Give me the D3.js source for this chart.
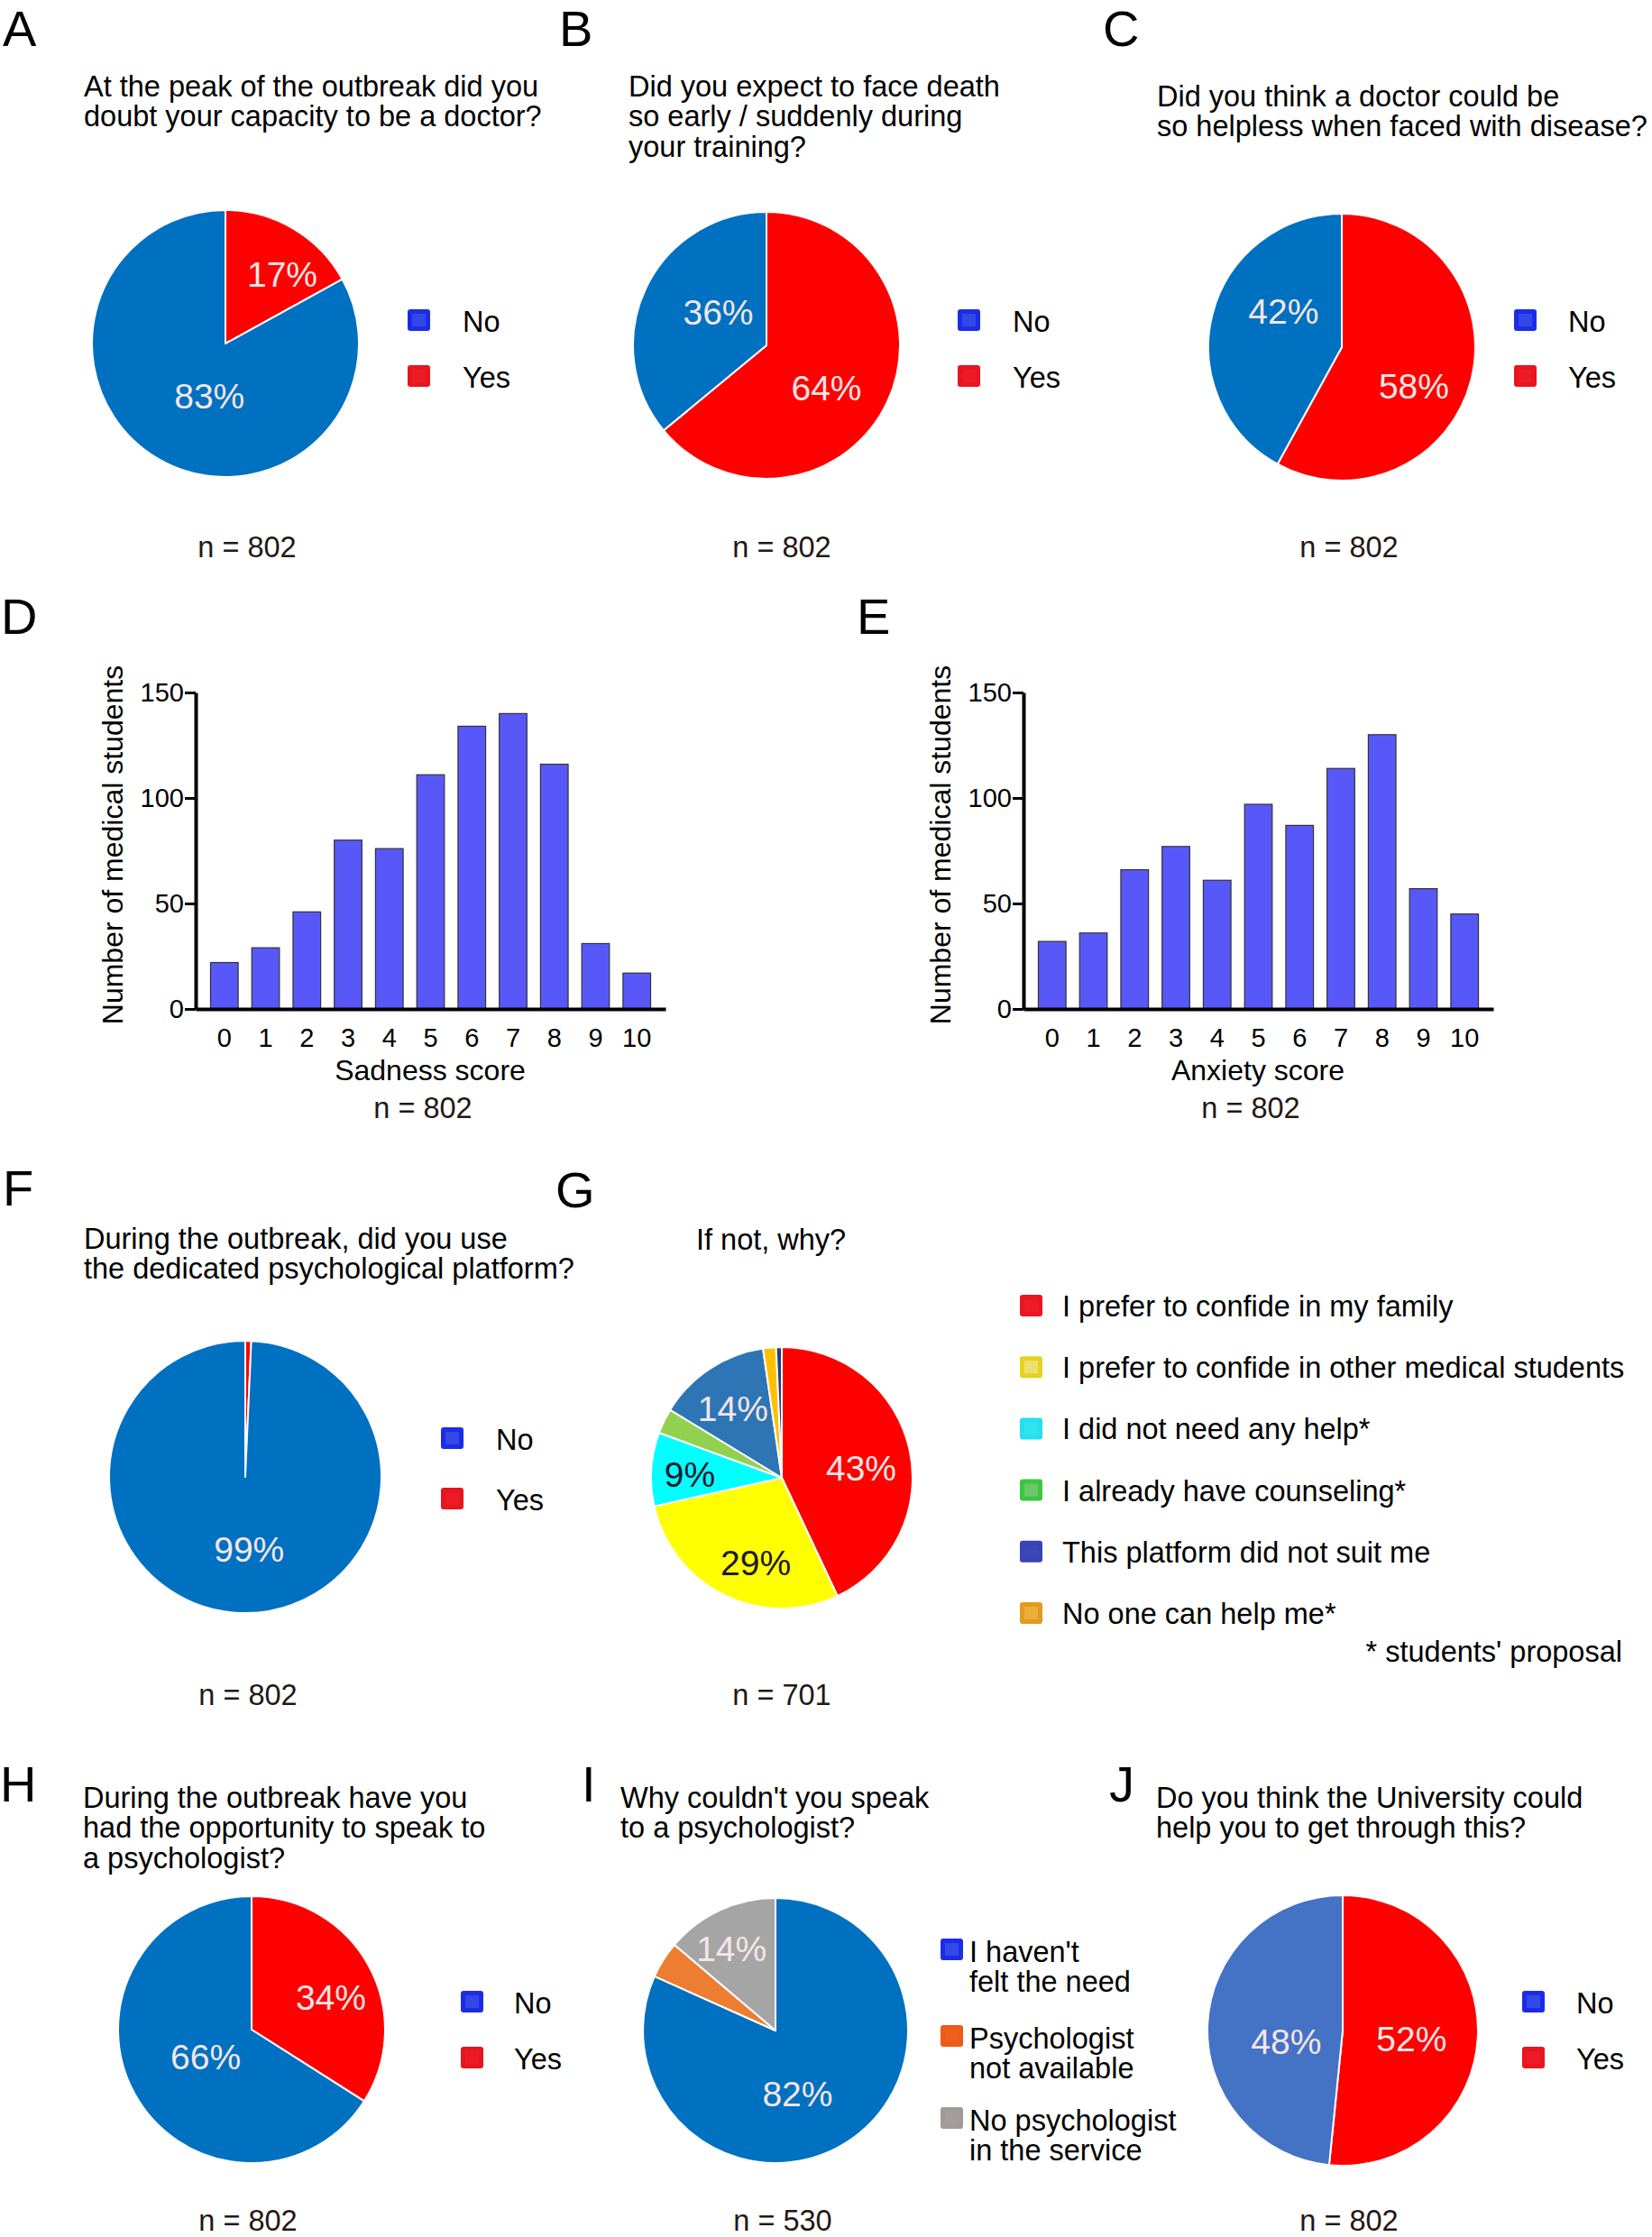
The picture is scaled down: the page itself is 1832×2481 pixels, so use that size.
<!DOCTYPE html>
<html>
<head>
<meta charset="utf-8">
<script src="https://cdn.jsdelivr.net/npm/d3@7"></script>
<style>
  body { margin: 0; background: #fff; }
  svg { display: block; font-family: "Liberation Sans", Arial, sans-serif; }
</style>
</head>
<body>
<svg id="fig" width="1832" height="2481"></svg>
<script>
// ---------- data ----------
// yes/no pies: slices drawn clockwise from 12 o'clock, "Yes" first
const yesNoSlices = ["Yes", "No"];
const legendYesNo = ["No", "Yes"];
const doubtCapacity = [17, 83];
const expectDeath = [64, 36];
const helpless = [58, 42];
const usedPlatform = [0.7, 99.3];
const spokePsychologist = [34, 66];
const universityHelp = [51.6, 48.4];

// G: if not, why?
const whyNotLegend = ["I prefer to confide in my family", "I prefer to confide in other medical students",
  "I did not need any help*", "I already have counseling*", "This platform did not suit me", "No one can help me*"];
const whyNotSlices = [43, 28.5, 9.1, 3.1, 14, 1.6, 0.7];

// I: why couldn't you speak to a psychologist
const whyCouldntLegend = [["I haven't", "felt the need"], ["Psychologist", "not available"], ["No psychologist", "in the service"]];
const whyCouldntSlices = [81.7, 4.5, 13.8];

// D / E histograms
const scores = ["0", "1", "2", "3", "4", "5", "6", "7", "8", "9", "10"];
const sadness = [22, 29, 46, 80, 76, 111, 134, 140, 116, 31, 17];
const anxiety = [32, 36, 66, 77, 61, 97, 87, 114, 130, 57, 45];
const yTicks = [0, 50, 100, 150];

// ---------- styles ----------
const blue = "#0070c0", red = "#ff0000";
const legBlue = ["#1c2ce6", "#3448e8"], legRed = ["#e8141e", "#ec1c26"];
const labelLight = "#f4e6e6", labelDark = "#22182a";

const svg = d3.select("#fig");

function txt(x, y, s, size, opts) {
  opts = opts || {};
  return svg.append("text").attr("x", x).attr("y", y).text(s)
    .attr("font-size", size)
    .attr("fill", opts.fill || "#000")
    .attr("text-anchor", opts.anchor || "start");
}

function panelLetter(x, y, s) { txt(x, y, s, 56); }

function title(x, y, lines) {
  lines.forEach((l, i) => txt(x, y + i * 33.3, l, 32.5));
}

function nLabel(x, y, s) { txt(x, y, s, 32.5, { fill: "#231815", anchor: "middle" }); }

function legendSquare(x, y, cols) {
  svg.append("rect").attr("x", x).attr("y", y).attr("width", 25).attr("height", 24)
    .attr("rx", 3).attr("fill", cols[0]);
  svg.append("rect").attr("x", x + 5).attr("y", y + 5).attr("width", 15).attr("height", 14)
    .attr("fill", cols[1]);
}

// pie: values clockwise from top; labels given as [angleDeg, dist, colour] or null
function drawPie(cx, cy, r, values, colors, labels) {
  const pie = d3.pie().sort(null).value(d => d);
  const arc = d3.arc().innerRadius(0).outerRadius(r);
  const g = svg.append("g").attr("transform", `translate(${cx},${cy})`);
  const arcs = pie(values);
  g.selectAll("path").data(arcs).join("path")
    .attr("d", arc)
    .attr("fill", (d, i) => colors[i])
    .attr("stroke", "#fff")
    .attr("stroke-width", 2)
    .attr("stroke-linejoin", "round");
  g.selectAll("text").data(arcs.filter((d, i) => labels[i])).join("text")
    .each(function (d) {
      const lab = labels[d.index];
      const a = lab[0] * Math.PI / 180;
      d3.select(this)
        .attr("x", lab[1] * Math.sin(a))
        .attr("y", -lab[1] * Math.cos(a))
        .attr("fill", lab[2] || labelLight);
    })
    .attr("text-anchor", "middle")
    .attr("dominant-baseline", "central")
    .attr("font-size", 39)
    .text(d => Math.round(d.data) + "%");
}

function yesNoLegend(x, yNo, yYes, tx) {
  legendSquare(x, yNo, legBlue);
  legendSquare(x, yYes, legRed);
  txt(tx, yNo + 25, legendYesNo[0], 32.5);
  txt(tx, yYes + 25, legendYesNo[1], 32.5);
}

function drawHist(left, values, xTitle, yTitleX) {
  const x = d3.scaleBand().domain(scores).range([left, left + 521])
    .paddingInner(0.33).paddingOuter(0.36);
  const y = d3.scaleLinear().domain([0, 150]).range([1119, 768]);

  svg.append("g").selectAll("rect").data(values).join("rect")
    .attr("x", (d, i) => x(scores[i]))
    .attr("y", d => y(d))
    .attr("width", x.bandwidth())
    .attr("height", d => y(0) - y(d))
    .attr("fill", "#5858f8")
    .attr("stroke", "#333")
    .attr("stroke-width", 1.2);

  const ya = svg.append("g").attr("transform", `translate(${left},0)`)
    .call(d3.axisLeft(y).tickValues(yTicks).tickSize(12).tickSizeOuter(0).tickPadding(1));
  ya.select(".domain").attr("stroke-width", 4);
  ya.selectAll(".tick line").attr("stroke-width", 3);
  ya.selectAll("text").attr("font-size", 29).attr("font-family", "Liberation Sans, Arial, sans-serif").attr("fill", "#000");

  const xa = svg.append("g").attr("transform", `translate(0,${y(0)})`)
    .call(d3.axisBottom(x).tickSize(0).tickSizeOuter(0).tickPadding(21));
  xa.select(".domain").attr("stroke-width", 4);
  xa.selectAll("text").attr("font-size", 29).attr("font-family", "Liberation Sans, Arial, sans-serif").attr("fill", "#000");

  txt(left + 260, 1198, xTitle, 32, { anchor: "middle" });
  svg.append("text")
    .attr("transform", `translate(${yTitleX},937) rotate(-90)`)
    .attr("text-anchor", "middle")
    .attr("font-size", 32)
    .text("Number of medical students");
}

// ---------- row 1 ----------
panelLetter(3, 51, "A");
title(93, 107, ["At the peak of the outbreak did you", "doubt your capacity to be a doctor?"]);
drawPie(250, 381, 148, doubtCapacity, [red, blue], [[39.3, 99.5], [197, 60.7]]);
yesNoLegend(452, 343, 405, 513);
nLabel(274, 618, "n = 802");

panelLetter(620, 51, "B");
title(697, 107, ["Did you expect to face death", "so early / suddenly during", "your training?"]);
drawPie(850, 383, 148, expectDeath, [red, blue], [[125.5, 81.7], [304.3, 64.8]]);
yesNoLegend(1062, 343, 405, 1123);
nLabel(867, 618, "n = 802");

panelLetter(1223, 51, "C");
title(1283, 118, ["Did you think a doctor could be", "so helpless when faced with disease?"]);
drawPie(1488, 385, 148, helpless, [red, blue], [[118.3, 90.8], [301.6, 76]]);
yesNoLegend(1679, 343, 405, 1739);
nLabel(1496, 618, "n = 802");

// ---------- row 2 ----------
panelLetter(1, 703, "D");
drawHist(217, sadness, "Sadness score", 136);
nLabel(469, 1240, "n = 802");

panelLetter(950, 703, "E");
drawHist(1135, anxiety, "Anxiety score", 1054);
nLabel(1387, 1240, "n = 802");

// ---------- row 3 ----------
panelLetter(3, 1337, "F");
title(93, 1385, ["During the outbreak, did you use", "the dedicated psychological platform?"]);
drawPie(272, 1638, 151, usedPlatform, [red, blue], [null, [177, 81]]);
yesNoLegend(489, 1583, 1650, 550);
nLabel(275, 1891, "n = 802");

panelLetter(616, 1339, "G");
title(772, 1386, ["If not, why?"]);
drawPie(867, 1639, 145, whyNotSlices,
  ["#ff0000", "#ffff00", "#00ffff", "#92d050", "#2e75b6", "#ffc000", "#1f3f7a"],
  [[83.5, 88.6], [197.1, 98.4, labelDark], [271.7, 102, labelDark], null, [324.6, 93.6], null, null]);
const whyNotLegCols = [["#ea1520", "#ee1c26"], ["#e3d41e", "#ece070"], ["#26dfee", "#30e4f0"],
  ["#3cc63f", "#6ac86a"], ["#3b43b3", "#3e47b8"], ["#e29a22", "#e8b038"]];
whyNotLegend.forEach((s, i) => {
  const cy = 1448 + i * 68.2;
  legendSquare(1131, cy - 12, whyNotLegCols[i]);
  txt(1178, cy + 12, s, 32.5);
});
txt(1799, 1843, "* students' proposal", 32.5, { anchor: "end" });
nLabel(867, 1891, "n = 701");

// ---------- row 4 ----------
panelLetter(0, 1998, "H");
title(92, 2005, ["During the outbreak have you", "had the opportunity to speak to", "a psychologist?"]);
drawPie(279, 2251, 148, spokePsychologist, [red, blue], [[67.8, 95], [239.1, 59.4]]);
yesNoLegend(511, 2208, 2270, 570);
nLabel(275, 2474, "n = 802");

panelLetter(645, 1998, "I");
title(688, 2005, ["Why couldn't you speak", "to a psychologist?"]);
drawPie(860, 2252, 147, whyCouldntSlices, [blue, "#ed7d31", "#a5a5a5"], [[161, 75], null, [331.7, 103]]);
const whyCouldntCols = [legBlue, ["#ee5a18", "#ee5e1c"], ["#a09a98", "#a39d9b"]];
[2150, 2246, 2337].forEach((y, i) => {
  legendSquare(1043, y, whyCouldntCols[i]);
  txt(1075, y + 26, whyCouldntLegend[i][0], 32.5);
  txt(1075, y + 59, whyCouldntLegend[i][1], 32.5);
});
nLabel(868, 2474, "n = 530");

panelLetter(1230, 1998, "J");
title(1282, 2005, ["Do you think the University could", "help you to get through this?"]);
drawPie(1489, 2252, 150, universityHelp, [red, "#4472c4"], [[97.4, 77], [258.3, 64]]);
yesNoLegend(1688, 2208, 2270, 1748);
nLabel(1496, 2474, "n = 802");
</script>
</body>
</html>
